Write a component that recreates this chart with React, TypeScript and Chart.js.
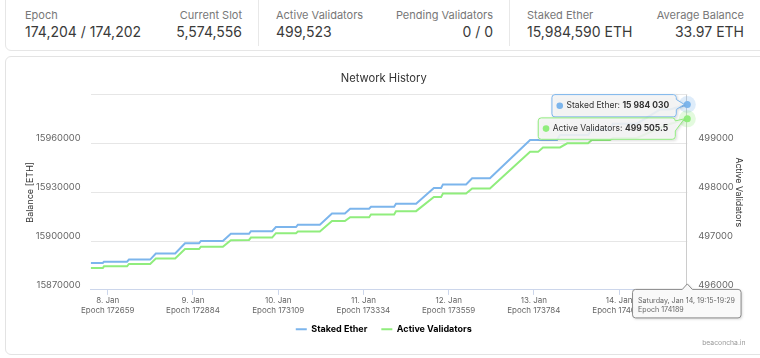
import React, { useEffect, useRef } from "react";
import { Chart, registerables } from "chart.js";

Chart.register(...registerables);

// ---------- header stats ----------
const statLabels = ["Epoch", "Current Slot", "Active Validators", "Pending Validators", "Staked Ether", "Average Balance"];
const statValues = ["174,204 / 174,202", "5,574,556", "499,523", "0 / 0", "15,984,590 ETH", "33.97 ETH"];

// ---------- chart data ----------
const epochs = [
  172614, 172646, 172649, 172710, 172715, 172771, 172786, 172837, 172863, 172900,
  172905, 172963, 172984, 173032, 173037, 173093, 173103, 173156, 173161, 173219,
  173251, 173285, 173299, 173349, 173354, 173415, 173420, 173473, 173520, 173539,
  173544, 173605, 173621, 173668, 173774, 173795, 173808, 173845, 173853, 173872,
  173927, 173937, 173985, 173993, 174056, 174117, 174143, 174189,
];
const stakedEther = [
  15886560, 15886560, 15887380, 15887380, 15888630, 15888630, 15892380, 15892380, 15898630, 15898630,
  15900130, 15900130, 15904500, 15904500, 15906130, 15906130, 15908630, 15908630, 15910130, 15910130,
  15917000, 15917000, 15919880, 15919880, 15921130, 15921130, 15923000, 15923000, 15932630, 15932630,
  15934880, 15934880, 15938630, 15938630, 15962190, 15962190, 15962190, 15962190, 15965310, 15965310,
  15965310, 15968440, 15968440, 15972190, 15972190, 15980940, 15980940, 15984030,
];
const activeValidators = [
  496448, 496448, 496483, 496483, 496531, 496531, 496642, 496642, 496837, 496837,
  496885, 496885, 497017, 497025, 497073, 497073, 497162, 497162, 497198, 497198,
  497412, 497412, 497489, 497489, 497546, 497546, 497614, 497614, 497906, 497906,
  497975, 497975, 498079, 498079, 498829, 498829, 498920, 498920, 498920, 499004,
  499004, 499072, 499072, 499114, 499114, 499322, 499400, 499505.5,
];

const seriesNames = ["Staked Ether", "Active Validators"];
const tickEpochs = [172659, 172884, 173109, 173334, 173559, 173784, 174009];
const tickDays = ["8. Jan", "9. Jan", "10. Jan", "11. Jan", "12. Jan", "13. Jan", "14. Jan"];
const hoverHeader = ["Saturday, Jan 14, 19:15-19:29", "Epoch 174189"];
const chartTitle = "Network History";
const creditText = "beaconcha.in";

const BLUE = "#7cb5ec";
const GREEN = "#90ed7d";
const FONT = "Inter, 'Noto Sans', sans-serif";
const TIP_FS = 8.5;

function fmtSpace(v: number): string {
  const [i, d] = String(v).split(".");
  return i.replace(/\B(?=(\d{3})+(?!\d))/g, " ") + (d ? "." + d : "");
}

function calloutPath(ctx: CanvasRenderingContext2D, l: number, t: number, w: number, h: number, r: number, ax: number, ay: number) {
  const rgt = l + w, b = t + h;
  const by = Math.min(Math.max(ay, t + r + 5), b - r - 5);
  ctx.beginPath();
  ctx.moveTo(l + r, t);
  ctx.lineTo(rgt - r, t);
  ctx.arcTo(rgt, t, rgt, t + r, r);
  ctx.lineTo(rgt, by - 5);
  ctx.lineTo(ax, ay);
  ctx.lineTo(rgt, by + 5);
  ctx.lineTo(rgt, b - r);
  ctx.arcTo(rgt, b, rgt - r, b, r);
  ctx.lineTo(l + r, b);
  ctx.arcTo(l, b, l, b - r, r);
  ctx.lineTo(l, t + r);
  ctx.arcTo(l, t, l + r, t, r);
  ctx.closePath();
}

function drawSeriesTip(ctx: CanvasRenderingContext2D, right: number, top: number, h: number, color: string, label: string, value: string, ax: number, ay: number) {
  ctx.font = `${TIP_FS}px ${FONT}`;
  const w1 = ctx.measureText(label).width;
  ctx.font = `bold ${TIP_FS}px ${FONT}`;
  const w2 = ctx.measureText(value).width;
  const width = w1 + w2 + 22.5;
  const left = right - width;
  ctx.save();
  ctx.shadowColor = "rgba(0,0,0,0.18)";
  ctx.shadowBlur = 3;
  ctx.shadowOffsetX = 1;
  ctx.shadowOffsetY = 1;
  calloutPath(ctx, left, top, width, h, 3, ax, ay);
  ctx.fillStyle = "rgba(247,247,247,0.88)";
  ctx.fill();
  ctx.restore();
  calloutPath(ctx, left + 0.5, top + 0.5, width - 1, h - 1, 3, ax, ay);
  ctx.strokeStyle = color;
  ctx.lineWidth = 1;
  ctx.stroke();
  const cy = top + h / 2;
  ctx.fillStyle = color;
  ctx.beginPath();
  ctx.arc(left + 8.3, cy, 3.3, 0, Math.PI * 2);
  ctx.fill();
  ctx.textBaseline = "middle";
  ctx.textAlign = "left";
  ctx.fillStyle = "#333333";
  ctx.font = `${TIP_FS}px ${FONT}`;
  ctx.fillText(label, left + 15, cy);
  ctx.font = `bold ${TIP_FS}px ${FONT}`;
  ctx.fillText(value, left + 15 + w1, cy);
  return top + h;
}

const overlayPlugin = {
  id: "overlay",
  beforeDatasetsDraw(chart: any) {
    const ctx = chart.ctx as CanvasRenderingContext2D;
    const area = chart.chartArea;
    const m0 = chart.getDatasetMeta(0);
    const p0 = m0.data[m0.data.length - 1];
    ctx.save();
    ctx.strokeStyle = "#cccccc";
    ctx.lineWidth = 1;
    const x = Math.round(p0.x) - 0.5;
    ctx.beginPath();
    ctx.moveTo(x, area.top);
    ctx.lineTo(x, area.bottom);
    ctx.stroke();
    ctx.restore();
  },
  afterDraw(chart: any) {
    const ctx = chart.ctx as CanvasRenderingContext2D;
    const area = chart.chartArea;
    const m0 = chart.getDatasetMeta(0);
    const m1 = chart.getDatasetMeta(1);
    const p0 = m0.data[m0.data.length - 1];
    const p1 = m1.data[m1.data.length - 1];
    ctx.save();
    // hover markers
    const marks: [any, string][] = [[p0, "124,181,236"], [p1, "144,237,125"]];
    marks.forEach(([p, rgb]) => {
      ctx.fillStyle = `rgba(${rgb},0.25)`;
      ctx.beginPath();
      ctx.arc(p.x, p.y, 8.5, 0, Math.PI * 2);
      ctx.fill();
      ctx.fillStyle = `rgb(${rgb})`;
      ctx.beginPath();
      ctx.arc(p.x, p.y, 3.5, 0, Math.PI * 2);
      ctx.fill();
    });
    // series tooltips
    const lastBlue = stakedEther[stakedEther.length - 1];
    const lastGreen = activeValidators[activeValidators.length - 1];
    const h = 23.3;
    const t0 = p0.y + 1.3 - h / 2;
    const b0 = drawSeriesTip(ctx, p0.x - 10.5, t0, h, BLUE, seriesNames[0] + ": ", fmtSpace(lastBlue), p0.x - 3, p0.y);
    drawSeriesTip(ctx, p1.x - 11.5, b0, 22.4, GREEN, seriesNames[1] + ": ", fmtSpace(lastGreen), p1.x - 3, p1.y);

    // x header tooltip
    const hw = 108.5, hh = 28.5;
    const hl = p0.x - hw / 2 - 0.5;
    const ht = area.bottom - 0.5;
    const headerPath = () => {
      ctx.beginPath();
      const r = 3;
      const l = hl, t = ht, rr = hl + hw, b = ht + hh;
      ctx.moveTo(l + r, t);
      ctx.lineTo(p0.x - 5, t);
      ctx.lineTo(p0.x, t - 5.5);
      ctx.lineTo(p0.x + 5, t);
      ctx.lineTo(rr - r, t);
      ctx.arcTo(rr, t, rr, t + r, r);
      ctx.lineTo(rr, b - r);
      ctx.arcTo(rr, b, rr - r, b, r);
      ctx.lineTo(l + r, b);
      ctx.arcTo(l, b, l, b - r, r);
      ctx.lineTo(l, t + r);
      ctx.arcTo(l, t, l + r, t, r);
      ctx.closePath();
    };
    ctx.save();
    ctx.shadowColor = "rgba(0,0,0,0.2)";
    ctx.shadowBlur = 3;
    ctx.shadowOffsetX = 1;
    ctx.shadowOffsetY = 1;
    headerPath();
    ctx.fillStyle = "rgba(250,250,250,0.97)";
    ctx.fill();
    ctx.restore();
    headerPath();
    ctx.strokeStyle = "#8a8a8a";
    ctx.lineWidth = 1;
    ctx.stroke();
    ctx.fillStyle = "#666666";
    ctx.font = `7.1px ${FONT}`;
    ctx.textAlign = "left";
    ctx.textBaseline = "middle";
    ctx.fillText(hoverHeader[0], hl + 5.5, ht + 11);
    ctx.fillText(hoverHeader[1], hl + 5.5, ht + 20);

    // credits
    ctx.fillStyle = "#999999";
    ctx.font = `6.8px ${FONT}`;
    ctx.textAlign = "right";
    ctx.fillText(creditText, chart.width - 14.5, chart.height - 12.5);
    ctx.restore();
  },
};

export default function App() {
  const canvasRef = useRef<HTMLCanvasElement | null>(null);

  useEffect(() => {
    const canvas = canvasRef.current;
    if (!canvas) return;
    Chart.defaults.font.family = FONT;
    const chart = new Chart(canvas, {
      type: "line",
      data: {
        datasets: [
          {
            label: seriesNames[0],
            data: epochs.map((e, i) => ({ x: e, y: stakedEther[i] })),
            borderColor: BLUE,
            backgroundColor: BLUE,
            borderWidth: 2,
            pointRadius: 0,
            tension: 0,
            yAxisID: "y",
          },
          {
            label: seriesNames[1],
            data: epochs.map((e, i) => ({ x: e, y: activeValidators[i] })),
            borderColor: GREEN,
            backgroundColor: GREEN,
            borderWidth: 2,
            pointRadius: 0,
            tension: 0,
            yAxisID: "y1",
          },
        ],
      },
      options: {
        animation: false,
        responsive: false,
        events: [],
        layout: { padding: { left: 2.5, right: 0, top: 0, bottom: 11.3 } },
        plugins: {
          title: {
            display: true,
            text: chartTitle,
            color: "#333333",
            font: { size: 11.2, weight: "normal" as any },
            padding: { top: 15.8, bottom: 9.5 },
          },
          legend: {
            position: "bottom",
            labels: {
              boxWidth: 11,
              boxHeight: 2,
              padding: 14,
              color: "#333333",
              font: { size: 9, weight: "bold" as any },
              generateLabels: (ch: any) =>
                ch.data.datasets.map((ds: any, i: number) => ({
                  text: ds.label,
                  fillStyle: ds.borderColor,
                  strokeStyle: ds.borderColor,
                  lineWidth: 0,
                  hidden: false,
                  datasetIndex: i,
                })),
            },
          },
          tooltip: { enabled: false },
        },
        scales: {
          x: {
            type: "linear",
            min: epochs[0],
            max: epochs[epochs.length - 1],
            afterBuildTicks: (s: any) => {
              s.ticks = tickEpochs.map((v) => ({ value: v }));
            },
            afterFit: (s: any) => {
              s.height = 20.8;
              // let the two-line tick labels overflow the (compact) axis box
              s._computeLabelArea = () => undefined;
            },
            grid: { drawOnChartArea: false, drawTicks: true, tickLength: 5, color: "#ccd6eb" },
            border: { display: true, color: "#ccd6eb" },
            ticks: {
              autoSkip: false,
              maxRotation: 0,
              padding: 1,
              color: "#666666",
              font: { size: 8, lineHeight: 1.2 },
              callback: (v: any) => {
                const i = tickEpochs.indexOf(Number(v));
                return [tickDays[i], "Epoch " + v];
              },
            },
          },
          y: {
            position: "left",
            min: 15870000,
            max: 15990000,
            afterFit: (s: any) => {
              s.width = 83.2;
            },
            grid: { color: "#e6e6e6", drawTicks: false },
            border: { display: false },
            ticks: {
              stepSize: 30000,
              padding: 10,
              color: "#666666",
              font: { size: 9.4, lineHeight: 1.1 },
              callback: (v: any) => (Number(v) >= 15990000 ? "" : [String(v), ""]),
            },
            title: {
              display: true,
              text: "Balance [ETH]",
              color: "#333333",
              font: { size: 9 },
              padding: { top: 17, bottom: 0 },
            },
          },
          y1: {
            position: "right",
            min: 496000,
            max: 500000,
            afterFit: (s: any) => {
              s.width = 72.7;
            },
            grid: { display: false, drawTicks: false },
            border: { display: false },
            ticks: {
              stepSize: 1000,
              padding: 11,
              color: "#666666",
              font: { size: 9.4, lineHeight: 1.1 },
              callback: (v: any) => (Number(v) >= 500000 ? "" : [String(v), ""]),
            },
            title: {
              display: true,
              text: seriesNames[1],
              color: "#333333",
              font: { size: 8.8 },
              padding: { top: 16.5, bottom: 0 },
            },
          },
        },
      } as any,
      plugins: [overlayPlugin],
    });
    return () => chart.destroy();
  }, []);

  const panelLefts = [7, 258, 509];
  return (
    <div
      style={{
        position: "fixed",
        left: 0,
        top: 0,
        width: 760,
        height: 358,
        overflow: "hidden",
        background: "#ffffff",
        fontFamily: FONT,
      }}
    >
      <div
        style={{
          position: "absolute",
          left: 5,
          top: -10,
          width: 800,
          height: 61,
          border: "1px solid #e6e6e6",
          borderRadius: 6,
          boxSizing: "border-box",
          background: "#fff",
        }}
      />
      {[258, 509].map((x) => (
        <div key={x} style={{ position: "absolute", left: x, top: 0, width: 1, height: 46, background: "#e8e8e8" }} />
      ))}
      {panelLefts.map((pl, pi) => (
        <React.Fragment key={pi}>
          <div style={{ position: "absolute", left: pl + 18, top: 8, fontSize: 11, lineHeight: "14px", color: "#777", whiteSpace: "nowrap" }}>
            {statLabels[pi * 2]}
          </div>
          <div style={{ position: "absolute", left: pl + 18, top: 22.5, fontSize: 14, lineHeight: "18px", color: "#3a3a3a", whiteSpace: "nowrap" }}>
            {statValues[pi * 2]}
          </div>
          <div style={{ position: "absolute", right: 760 - (pl + 251 - 16), top: 8, fontSize: 11, lineHeight: "14px", color: "#777", textAlign: "right", whiteSpace: "nowrap" }}>
            {statLabels[pi * 2 + 1]}
          </div>
          <div style={{ position: "absolute", right: 760 - (pl + 251 - 16), top: 22.5, fontSize: 14, lineHeight: "18px", color: "#3a3a3a", textAlign: "right", whiteSpace: "nowrap" }}>
            {statValues[pi * 2 + 1]}
          </div>
        </React.Fragment>
      ))}
      <div
        style={{
          position: "absolute",
          left: 5,
          top: 56,
          width: 800,
          height: 299,
          border: "1px solid #e3e3e3",
          borderRadius: 6,
          boxSizing: "border-box",
          background: "#fff",
        }}
      />
      <canvas
        ref={canvasRef}
        width={755}
        height={299}
        style={{ position: "absolute", left: 5, top: 56, width: 755, height: 299 }}
      />
    </div>
  );
}
